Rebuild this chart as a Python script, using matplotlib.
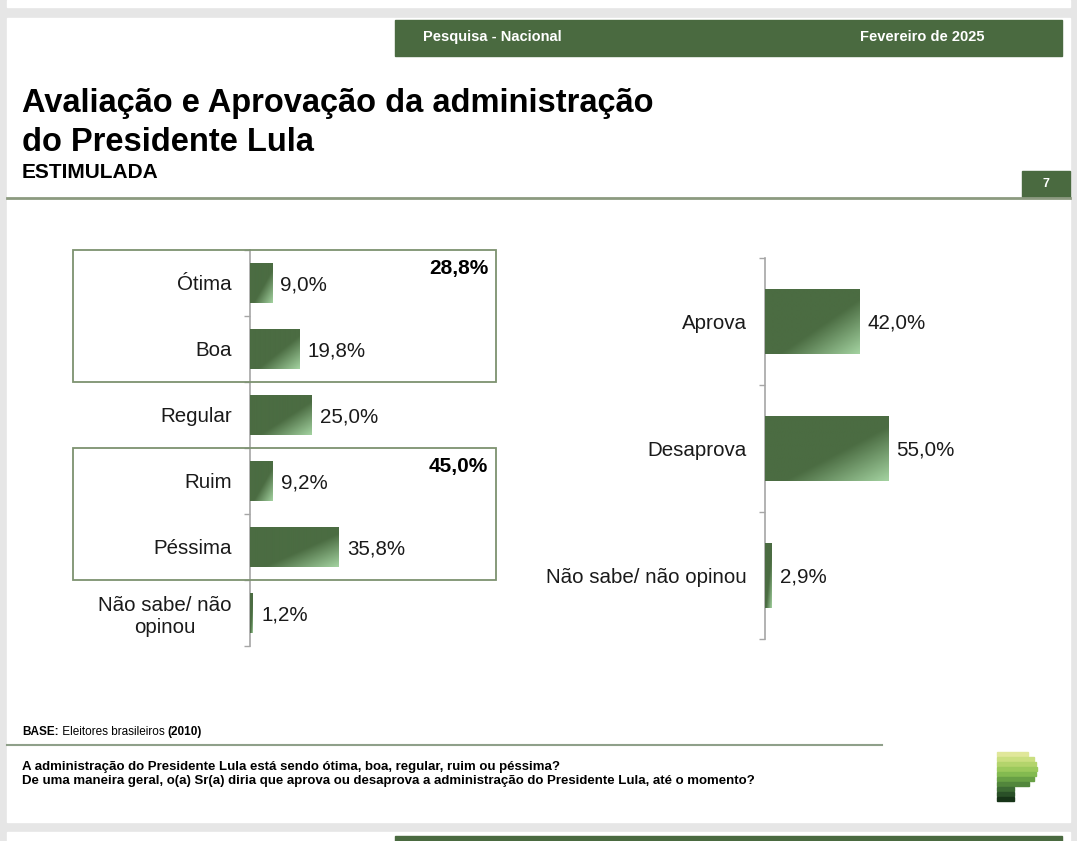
import numpy as np
import matplotlib
matplotlib.use('Agg')
import matplotlib.pyplot as plt
from matplotlib.patches import Rectangle
from matplotlib.colors import LinearSegmentedColormap
from matplotlib.transforms import blended_transform_factory

plt.rcParams['font.family'] = ['Liberation Sans', 'DejaVu Sans']

# ---- dados ----
aval_cats = ['Ótima', 'Boa', 'Regular', 'Ruim', 'Péssima', 'Não sabe/ não\nopinou']
aval_vals = [9.0, 19.8, 25.0, 9.2, 35.8, 1.2]
aval_grupos = [(0, 1), (3, 4)]          # ótima+boa, ruim+péssima
aprov_cats = ['Aprova', 'Desaprova', 'Não sabe/ não opinou']
aprov_vals = [42.0, 55.0, 2.9]

VERDE = '#4a6a40'
W, H = 1077, 841


def br(v):
    return f'{v:.1f}'.replace('.', ',') + '%'


fig = plt.figure(figsize=(W / 100, H / 100), dpi=100, facecolor='#e6e6e6')
bg = fig.add_axes([0, 0, 1, 1])
bg.set_xlim(0, W)
bg.set_ylim(H, 0)
bg.axis('off')

# slides (anterior, atual, seguinte)
bg.add_patch(Rectangle((7, 0), 1063, 7, color='white'))
bg.add_patch(Rectangle((7, 18), 1063, 804, color='white'))
bg.add_patch(Rectangle((7, 832), 1063, 12, color='white'))
bg.add_patch(Rectangle((395, 836), 667, 10, color=VERDE))

# cabeçalho
bg.add_patch(Rectangle((395, 20), 667, 36, color=VERDE))
bg.text(423, 37, 'Pesquisa - Nacional', color='white', fontsize=10.5,
        fontweight='bold', va='center')
bg.text(985, 37, 'Fevereiro de 2025', color='white', fontsize=10.5,
        fontweight='bold', va='center', ha='right')

bg.text(22, 112, 'Avaliação e Aprovação da administração', fontsize=23.5,
        fontweight='bold', va='baseline')
bg.text(22, 151, 'do Presidente Lula', fontsize=23.5, fontweight='bold',
        va='baseline')
bg.text(22, 172, 'ESTIMULADA', fontsize=15, fontweight='bold', va='center')

bg.add_patch(Rectangle((1022, 171), 48, 26, color=VERDE))
bg.text(1046, 184, '7', color='white', fontsize=9, fontweight='bold',
        ha='center', va='center')
bg.plot([7, 1070], [197.5, 197.5], color='#8c9a80', lw=2)

# rodapé
t1 = bg.text(22, 732, 'BASE:', fontsize=8.5, fontweight='bold', va='center')
t2 = bg.annotate(' Eleitores brasileiros ', xy=(1, 0), xycoords=t1,
                 va='bottom', fontsize=8.5)
bg.annotate('(2010)', xy=(1, 0), xycoords=t2, va='bottom', fontsize=8.5,
            fontweight='bold')
bg.plot([7, 882], [745, 745], color='#8fa08a', lw=1.5)
bg.text(22, 767, 'A administração do Presidente Lula está sendo ótima, boa, '
        'regular, ruim ou péssima?', fontsize=9.55, fontweight='bold',
        va='center')
bg.text(22, 781, 'De uma maneira geral, o(a) Sr(a) diria que aprova ou '
        'desaprova a administração do Presidente Lula, até o momento?',
        fontsize=9.55, fontweight='bold', va='center')

# logo
logo_w = [31, 37, 39, 40, 39, 37, 32, 17, 17, 17]
logo_c = ['#e0e79a', '#cadf80', '#b3d46c', '#9bc95c', '#83ba50', '#68a045',
          '#52863c', '#3d6b34', '#2a5028', '#173418']
for k, (lw_, c) in enumerate(zip(logo_w, logo_c)):
    bg.add_patch(Rectangle((997, 752 + k * 5), lw_, 4, color=c))

# gradiente das barras
cmap = LinearSegmentedColormap.from_list(
    'g', [(0, '#4b6c42'), (0.58, '#4b6c42'), (1, '#a3d2a0')])
gu, gw = np.meshgrid(np.linspace(0, 1, 80), np.linspace(0, 1, 80))
grad = (gu + gw) / 2


def px_axes(x0, y0, x1, y1):
    return fig.add_axes([x0 / W, 1 - y1 / H, (x1 - x0) / W, (y1 - y0) / H])


def bar_chart(ax, cats, vals, height):
    n = len(cats)
    bars = ax.barh(range(n), vals, height=height, color='#4b6c42', zorder=2)
    for b in bars:
        x0, y0, w, h = b.get_x(), b.get_y(), b.get_width(), b.get_height()
        im = ax.imshow(grad, cmap=cmap, extent=(x0, x0 + w, y0 + h, y0),
                       aspect='auto', origin='upper', zorder=3,
                       interpolation='bilinear')
        im.set_clip_path(b)
    for i, v in enumerate(vals):
        ax.annotate(br(v), (v, i), xytext=(5.8, -1.4),
                    textcoords='offset points', va='center', fontsize=14.8,
                    color='#1a1a1a')
    ax.set_xlim(0, 100)
    ax.set_ylim(n - 0.5, -0.5)
    ax.set_yticks(range(n))
    ax.set_yticklabels(cats, fontsize=14.8, color='#1a1a1a')
    for t in ax.get_yticklabels():
        t.set_multialignment('center')
    ax.set_yticks(np.arange(-0.5, n), minor=True)
    ax.tick_params(axis='y', which='major', length=0, pad=13)
    ax.tick_params(axis='y', which='minor', length=4, width=1,
                   color='#a6a6a6')
    ax.set_xticks([])
    for s in ('top', 'right', 'bottom'):
        ax.spines[s].set_visible(False)
    ax.spines['left'].set_color('#a6a6a6')
    ax.spines['left'].set_linewidth(1.2)
    ax.patch.set_alpha(0)


ax1 = px_axes(250, 250, 498, 646)
bar_chart(ax1, aval_cats, aval_vals, 0.6)
tr = blended_transform_factory(ax1.transAxes, ax1.transData)
bx0, bx1 = (73 - 250) / 248, (496 - 250) / 248
for i0, i1 in aval_grupos:
    ax1.add_patch(Rectangle((bx0, i0 - 0.5), bx1 - bx0, i1 - i0 + 1,
                            transform=tr, fill=False, edgecolor='#7d9270',
                            lw=1.3, clip_on=False, zorder=4))
    total = sum(aval_vals[i0:i1 + 1])
    ax1.annotate(br(total), ((488 - 250) / 248, i0 - 0.5), xycoords=tr,
                 xytext=(0, -13), textcoords='offset points', ha='right',
                 va='center', fontsize=15, fontweight='bold')

ax2 = px_axes(765, 258, 989, 639)
bar_chart(ax2, aprov_cats, aprov_vals, 0.51)

fig.savefig('out.png', dpi=100, facecolor=fig.get_facecolor())
